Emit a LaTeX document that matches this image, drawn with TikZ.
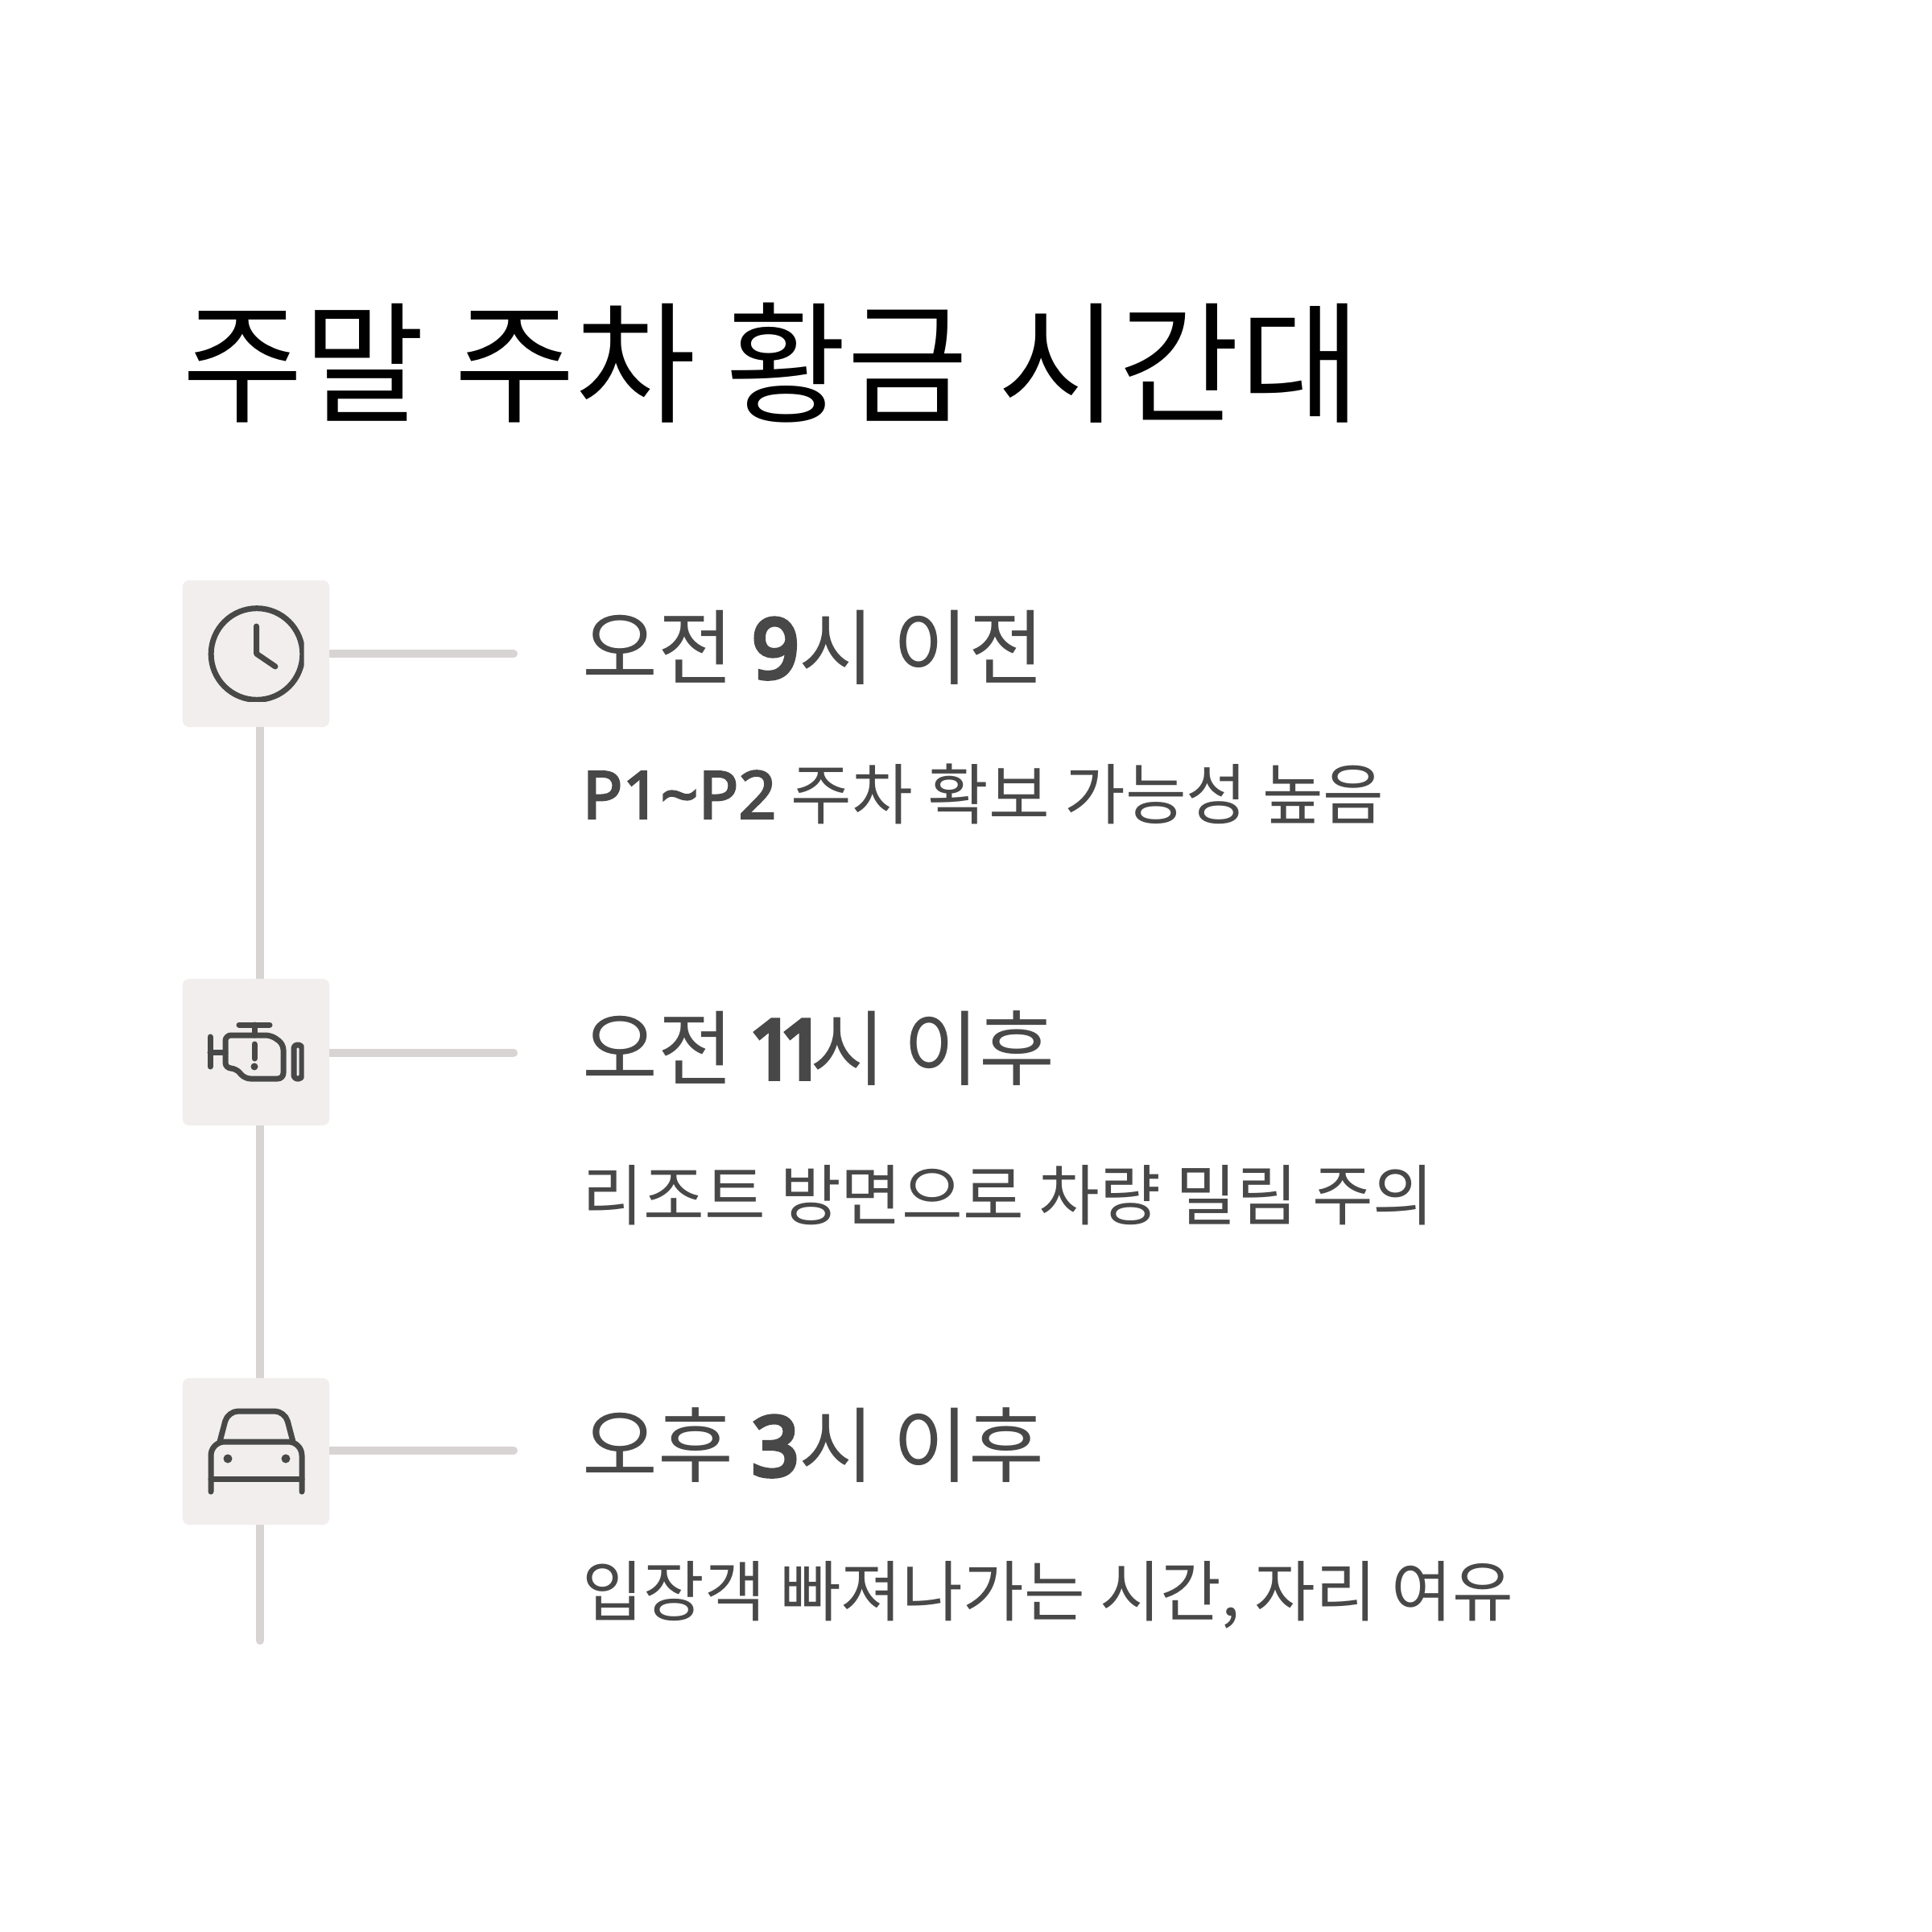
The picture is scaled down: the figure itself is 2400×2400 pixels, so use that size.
\documentclass[tikz,border=0pt]{standalone}
\usepackage{fontspec}
\setmainfont{Noto Sans CJK KR}
\newfontfamily\digitfont[FakeBold=5.5]{Noto Sans}
\newfontfamily\medfont[FakeBold=3]{Noto Sans}
\usetikzlibrary{positioning,calc,backgrounds}
\definecolor{boxgray}{HTML}{F1EEED}
\definecolor{railgray}{HTML}{D8D4D3}
\definecolor{inkgray}{HTML}{484848}

\begin{document}
\begin{tikzpicture}[
    x=0.01cm, y=-0.01cm,
    iconbox/.style={rectangle, fill=boxgray, rounded corners=0.08cm, inner sep=0pt,
                    minimum width=1.82cm, minimum height=1.82cm},
    rail/.style={draw=railgray, line width=0.1cm, line cap=round},
    ttl/.style={anchor=base west, inner sep=0pt, font=\fontsize{46.5}{50}\selectfont, text=black},
    hdg/.style={anchor=base west, inner sep=0pt, font=\fontsize{29}{34}\selectfont, text=inkgray},
    sub/.style={anchor=base west, inner sep=0pt, font=\fontsize{23.4}{28}\selectfont, text=inkgray},
    ico/.style={draw=inkgray, line width=0.07cm, line cap=round, line join=round}
  ]
    \useasboundingbox (0,0) rectangle (2400,2400);

    %--- Title ---
    \node[ttl] (title) at (226,512) {주말 주차 황금 시간대};

    %--- Icon boxes ---
    \node[iconbox] (clockbox)  at (318,812)  {};
    \node[iconbox] (enginebox) at (318,1307) {};
    \node[iconbox] (carbox)    at (318,1803) {};

    %--- Rails ---
    \coordinate (railx)   at (323,0);
    \coordinate (railend) at (323,2038);
    \coordinate (stub1)   at (638,812);
    \coordinate (stub2)   at (638,1308);
    \coordinate (stub3)   at (638,1802);

    \begin{scope}[on background layer]
      \fill[white] (0,0) rectangle (2400,2400);
      \draw[rail] (clockbox.south -| railx) -- (enginebox.north -| railx);
      \draw[rail] (enginebox.south -| railx) -- (carbox.north -| railx);
      \draw[rail] (carbox.center -| railx) -- (railend);
      \draw[rail] (clockbox.center |- stub1) -- (stub1);
      \draw[rail] (enginebox.center |- stub2) -- (stub2);
      \draw[rail] (carbox.center |- stub3) -- (stub3);
    \end{scope}

    %--- Clock icon ---
    \begin{scope}
      \clip (250,740) rectangle (377.7,871.7);
      \draw[ico] (319,812.5) circle (0.568cm);
    \end{scope}
    \draw[ico] (318.5,778) -- (318.5,812) -- (342,828);

    %--- Engine icon ---
    \begin{scope}
      \clip (250,1260) rectangle (377.7,1350);
      \draw[ico, rounded corners=0.04cm] (365,1298) rectangle (375,1340);
    \end{scope}
    \draw[ico] (261,1288) -- (261,1325);
    \draw[ico] (261,1307) -- (280,1307);
    \draw[ico] (297,1273) -- (335,1273);
    \draw[ico] (316,1273) -- (316,1286);
    \draw[ico, rounded corners=0.07cm]
      (280,1300) -- (280,1286) -- (337,1286) -- (352,1297) -- (352,1340)
      -- (304,1340) -- (293,1327) -- (280,1327) -- cycle;
    \draw[ico] (316,1297) -- (316,1315);
    \fill[inkgray] (316,1325) circle (0.045cm);

    %--- Car icon ---
    \draw[ico, rounded corners=0.17cm] (262,1853) -- (262,1791) -- (375,1791) -- (375,1853);
    \draw[ico] (262,1837) -- (375,1837);
    \draw[ico, rounded corners=0.13cm] (273,1791) -- (283,1753) -- (354,1753) -- (364,1791);
    \fill[inkgray] (283,1812) circle (0.055cm);
    \fill[inkgray] (355,1812) circle (0.055cm);

    %--- Row texts ---
    \node[hdg] (head1) at (723,842)  {오전 {\digitfont 9}시 이전};
    \node[sub] (body1) at (723,1017) {{\medfont P1\textasciitilde P2} 주차 확보 가능성 높음};
    \node[hdg] (head2) at (723,1340) {오전 \kern-0.04em{\digitfont 1\kern-0.2em 1\kern-0.2em}시 이후};
    \node[sub] (body2) at (723,1515) {리조트 방면으로 차량 밀림 주의};
    \node[hdg] (head3) at (723,1833) {오후 {\digitfont 3}시 이후};
    \node[sub] (body3) at (723,2007) {입장객 빠져나가는 시간, 자리 여유};
  \end{tikzpicture}
\end{document}
